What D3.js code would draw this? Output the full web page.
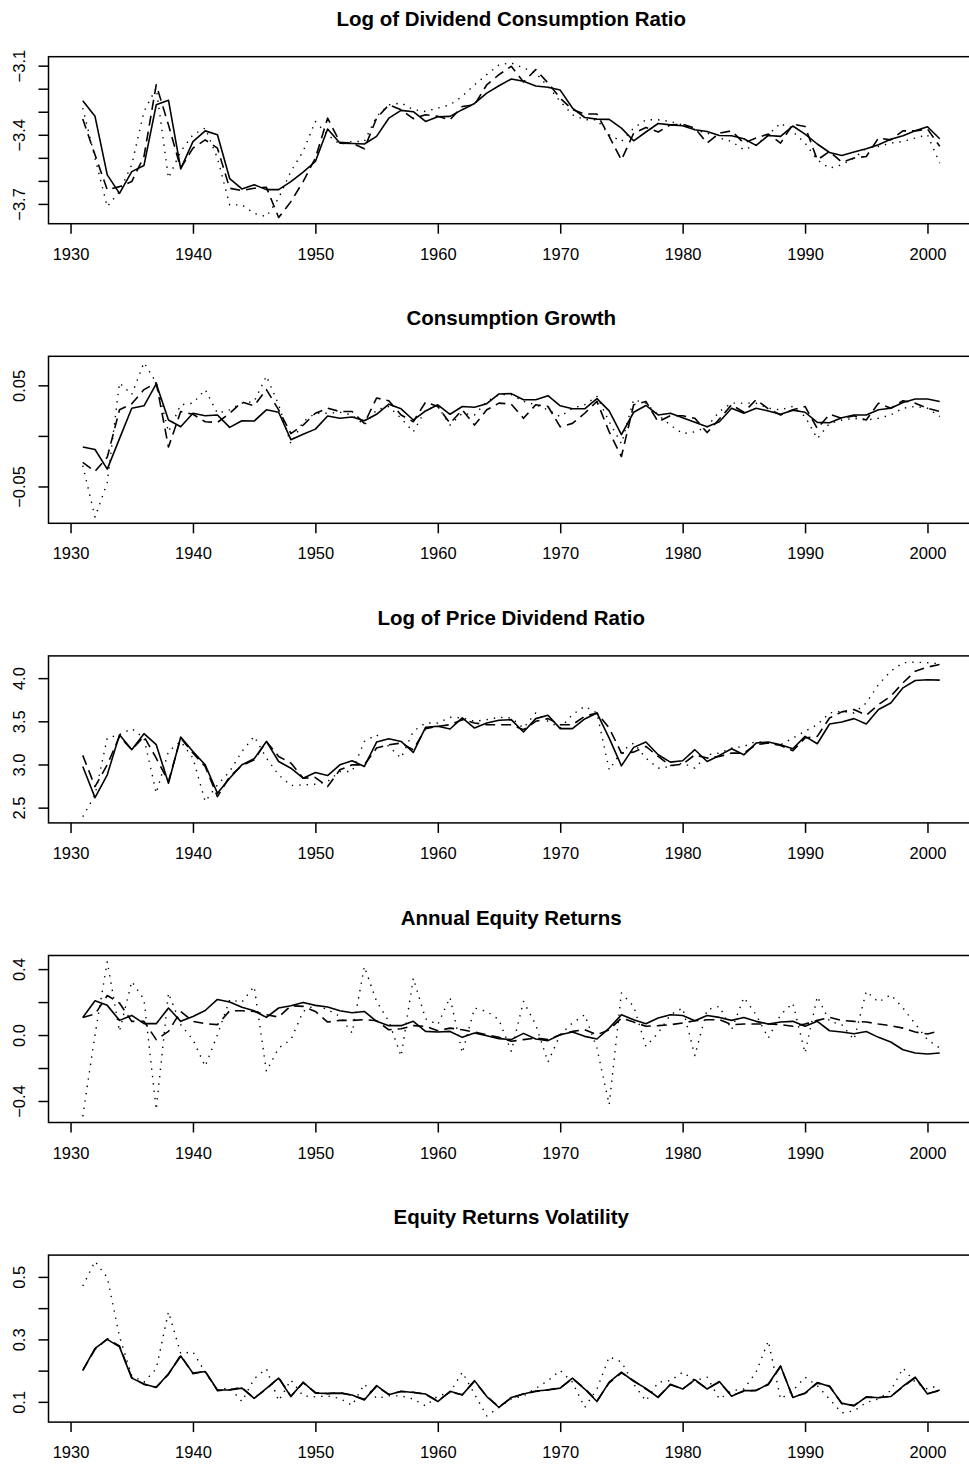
<!DOCTYPE html>
<html>
<head>
<meta charset="utf-8">
<script src="https://cdn.jsdelivr.net/npm/d3@7"></script>
<style>
  body { margin: 0; background: #fff; }
  svg { display: block; font-family: "Liberation Sans", Arial, Helvetica, sans-serif; }
</style>
</head>
<body>
<div id="chart"></div>
<script>
const years = d3.range(1931, 2002);
const xTicks = [1930, 1940, 1950, 1960, 1970, 1980, 1990, 2000];

// Log of dividend consumption ratio
const dcSolid = [
  -3.252,-3.32,-3.574,-3.654,-3.56,-3.533,-3.27,-3.25,-3.548,-3.43,
  -3.383,-3.40,-3.59,-3.635,-3.617,-3.638,-3.638,-3.603,-3.562,-3.516,
  -3.375,-3.436,-3.438,-3.44,-3.407,-3.328,-3.294,-3.30,-3.342,-3.322,
  -3.32,-3.291,-3.264,-3.219,-3.187,-3.158,-3.168,-3.188,-3.194,-3.206,
  -3.284,-3.325,-3.332,-3.333,-3.371,-3.426,-3.388,-3.351,-3.357,-3.361,
  -3.378,-3.386,-3.403,-3.404,-3.417,-3.446,-3.403,-3.407,-3.362,-3.397,
  -3.44,-3.477,-3.49,-3.475,-3.461,-3.443,-3.419,-3.404,-3.383,-3.365,
  -3.417];
const dcDashed = [
  -3.332,-3.487,-3.639,-3.625,-3.603,-3.494,-3.183,-3.357,-3.545,-3.458,
  -3.422,-3.458,-3.632,-3.642,-3.632,-3.628,-3.759,-3.69,-3.603,-3.501,
  -3.328,-3.432,-3.436,-3.461,-3.328,-3.27,-3.291,-3.33,-3.313,-3.32,
  -3.335,-3.277,-3.27,-3.183,-3.139,-3.103,-3.171,-3.117,-3.175,-3.241,
  -3.291,-3.31,-3.31,-3.407,-3.509,-3.393,-3.368,-3.388,-3.357,-3.354,
  -3.371,-3.436,-3.393,-3.383,-3.436,-3.414,-3.397,-3.436,-3.354,-3.364,
  -3.509,-3.472,-3.519,-3.501,-3.494,-3.414,-3.422,-3.383,-3.383,-3.375,
  -3.45];
const dcDotted = [
  -3.284,-3.501,-3.712,-3.646,-3.53,-3.299,-3.197,-3.588,-3.472,-3.40,
  -3.371,-3.501,-3.704,-3.704,-3.741,-3.755,-3.675,-3.559,-3.472,-3.342,
  -3.40,-3.441,-3.429,-3.429,-3.32,-3.27,-3.262,-3.291,-3.299,-3.284,
  -3.27,-3.233,-3.183,-3.139,-3.096,-3.088,-3.11,-3.132,-3.19,-3.255,
  -3.313,-3.335,-3.335,-3.40,-3.429,-3.371,-3.335,-3.335,-3.342,-3.357,
  -3.378,-3.393,-3.414,-3.429,-3.465,-3.443,-3.40,-3.349,-3.386,-3.436,
  -3.509,-3.545,-3.53,-3.501,-3.458,-3.451,-3.436,-3.429,-3.414,-3.40,
  -3.523];
const dcTicks = [-3.7, -3.6, -3.5, -3.4, -3.3, -3.2, -3.1];
const dcTickLabels = ["\u22123.7", "", "", "\u22123.4", "", "", "\u22123.1"];

// Consumption growth
const cgSolid = [
  -0.011,-0.0134,-0.0328,-0.0027,0.0274,0.0298,0.0515,0.0157,0.009,0.0224,
  0.020,0.0207,0.0084,0.015,0.0147,0.0258,0.0234,-0.0037,0.0017,0.0067,
  0.0197,0.0174,0.0187,0.015,0.0214,0.0314,0.0268,0.0157,0.0247,0.0308,
  0.0214,0.0291,0.0284,0.0318,0.0415,0.0418,0.0358,0.0358,0.0398,0.0298,
  0.0268,0.0268,0.0368,0.0247,0.0013,0.0234,0.0301,0.0207,0.0224,0.018,
  0.0134,0.009,0.014,0.0274,0.0224,0.0274,0.0247,0.0214,0.0254,0.0234,
  0.0134,0.013,0.018,0.0207,0.0207,0.0258,0.0274,0.0331,0.0365,0.0365,
  0.0341];
const cgDashed = [
  -0.0261,-0.0351,-0.0211,0.0258,0.0318,0.0458,0.0525,-0.011,0.0241,0.0214,
  0.014,0.0134,0.0224,0.0334,0.0298,0.0458,0.0258,0.0023,0.0107,0.0224,
  0.0274,0.0241,0.0241,0.0124,0.0375,0.0348,0.0207,0.014,0.0334,0.0291,
  0.0124,0.0258,0.0107,0.0258,0.0324,0.0314,0.0174,0.0308,0.0291,0.009,
  0.0124,0.0224,0.0341,0.004,-0.0204,0.0308,0.0341,0.014,0.020,0.020,
  0.0174,0.0033,0.0167,0.0308,0.0234,0.0358,0.0268,0.0207,0.0258,0.0291,
  0.0074,0.0214,0.0174,0.020,0.0157,0.0324,0.0274,0.0348,0.0324,0.0274,
  0.0241];
const cgDotted = [
  -0.0294,-0.0803,-0.0462,0.0525,0.0408,0.0726,0.0525,0.004,0.0308,0.0324,
  0.0458,0.0224,0.0258,0.0324,0.0341,0.0592,0.0308,-0.0077,0.014,0.0224,
  0.0224,0.0234,0.0207,0.0107,0.0258,0.0291,0.0174,0.004,0.0258,0.0291,
  0.0107,0.0224,0.0207,0.0341,0.0408,0.0408,0.0341,0.0308,0.0258,0.0191,
  0.0274,0.0308,0.0391,0.014,-0.0077,0.0358,0.0324,0.0207,0.0107,0.0023,
  0.004,0.009,0.0241,0.0324,0.0324,0.0324,0.0274,0.0258,0.0291,0.0191,
  -0.0027,0.0124,0.0157,0.0174,0.0157,0.0174,0.0207,0.0274,0.0291,0.0274,
  0.0191];
const cgTicks = [-0.05, 0, 0.05];
const cgTickLabels = ["\u22120.05", "", "0.05"];

// Log of price dividend ratio
const pdSolid = [
  2.977,2.616,2.88,3.345,3.171,3.357,3.229,2.783,3.318,3.151,
  2.996,2.667,2.841,2.996,3.066,3.267,3.035,2.957,2.841,2.907,
  2.872,2.996,3.043,2.977,3.26,3.298,3.267,3.14,3.43,3.442,
  3.411,3.539,3.422,3.481,3.512,3.519,3.376,3.531,3.57,3.415,
  3.415,3.527,3.597,3.306,2.984,3.198,3.26,3.112,3.027,3.043,
  3.171,3.035,3.105,3.182,3.112,3.248,3.26,3.229,3.182,3.326,
  3.24,3.469,3.492,3.531,3.469,3.636,3.713,3.888,3.973,3.981,
  3.977];
const pdDashed = [
  3.105,2.744,2.996,3.326,3.171,3.326,3.074,2.802,3.306,3.132,
  2.977,2.628,2.86,2.988,3.054,3.267,3.093,3.016,2.841,2.849,
  2.744,2.938,2.996,2.996,3.19,3.229,3.248,3.171,3.415,3.442,
  3.461,3.519,3.481,3.461,3.461,3.461,3.403,3.50,3.531,3.461,
  3.461,3.558,3.597,3.422,3.132,3.143,3.209,3.093,2.988,3.004,
  3.112,3.074,3.093,3.132,3.132,3.229,3.248,3.221,3.159,3.306,
  3.326,3.539,3.609,3.636,3.57,3.694,3.791,3.946,4.081,4.128,
  4.159];
const pdDotted = [
  2.395,2.647,3.306,3.345,3.415,3.306,2.667,3.151,3.267,3.074,
  2.57,2.764,2.919,3.151,3.326,3.074,2.88,2.756,2.764,2.771,
  2.802,2.919,2.919,3.267,3.345,3.209,3.074,3.384,3.481,3.481,
  3.547,3.539,3.50,3.519,3.547,3.539,3.422,3.597,3.50,3.422,
  3.578,3.674,3.597,2.938,3.151,3.248,3.074,2.957,2.977,3.016,
  2.957,3.112,3.132,3.19,3.209,3.267,3.248,3.229,3.306,3.384,
  3.461,3.597,3.616,3.597,3.713,3.926,4.081,4.178,4.186,4.178,
  4.167];
const pdTicks = [2.5, 3.0, 3.5, 4.0];
const pdTickLabels = ["2.5", "3.0", "3.5", "4.0"];

// Annual equity returns
const erSolid = [
  0.107,0.208,0.18,0.089,0.119,0.069,0.069,0.164,0.083,0.113,
  0.149,0.216,0.20,0.168,0.147,0.107,0.164,0.178,0.198,0.18,
  0.17,0.147,0.135,0.143,0.083,0.057,0.057,0.083,0.022,0.018,
  0.022,-0.014,0.012,-0.004,-0.022,-0.028,0.01,-0.024,-0.034,0.002,
  0.018,-0.008,-0.024,0.042,0.123,0.093,0.069,0.103,0.123,0.119,
  0.087,0.119,0.107,0.089,0.107,0.083,0.067,0.079,0.083,0.053,
  0.083,0.026,0.018,0.008,0.022,-0.014,-0.042,-0.089,-0.109,-0.115,
  -0.109];
const erDashed = [
  0.107,0.127,0.24,0.194,0.083,0.083,-0.028,0.022,0.143,0.083,
  0.069,0.063,0.147,0.147,0.143,0.123,0.109,0.178,0.174,0.143,
  0.079,0.089,0.089,0.093,0.087,0.032,0.038,0.057,0.053,0.026,
  0.042,0.032,0.018,0.002,-0.014,-0.038,-0.028,-0.018,-0.028,0.002,
  0.022,0.032,0.002,0.032,0.103,0.079,0.053,0.057,0.063,0.073,
  0.087,0.093,0.093,0.063,0.067,0.067,0.067,0.063,0.053,0.067,
  0.089,0.107,0.089,0.083,0.079,0.067,0.057,0.042,0.018,0.006,
  0.026];
const erDotted = [
  -0.493,0.002,0.445,0.022,0.325,0.216,-0.453,0.255,0.063,-0.028,
  -0.19,0.002,0.214,0.20,0.295,-0.22,-0.079,-0.028,0.143,0.184,
  0.154,0.113,0.012,0.416,0.204,0.083,-0.129,0.345,0.099,0.063,
  0.228,-0.109,0.164,0.143,0.093,-0.099,0.204,0.063,-0.164,0.002,
  0.073,0.123,-0.079,-0.422,0.255,0.174,-0.069,0.012,0.123,0.164,
  -0.125,0.154,0.174,0.032,0.228,0.123,-0.018,0.123,0.194,-0.109,
  0.234,0.083,0.063,-0.028,0.265,0.20,0.244,0.164,0.067,-0.028,
  -0.079];
const erTicks = [-0.4, -0.2, 0, 0.2, 0.4];
const erTickLabels = ["\u22120.4", "", "0.0", "", "0.4"];

// Equity returns volatility
const volSolid = [
  0.2005,0.271,0.30,0.276,0.176,0.157,0.146,0.19,0.247,0.192,
  0.197,0.138,0.138,0.144,0.111,0.143,0.176,0.117,0.163,0.128,
  0.127,0.128,0.122,0.106,0.152,0.123,0.134,0.13,0.125,0.101,
  0.134,0.122,0.168,0.117,0.082,0.114,0.125,0.135,0.138,0.144,
  0.176,0.141,0.101,0.163,0.195,0.166,0.143,0.114,0.156,0.141,
  0.171,0.141,0.165,0.118,0.136,0.136,0.157,0.215,0.114,0.128,
  0.162,0.149,0.096,0.087,0.116,0.113,0.117,0.15,0.179,0.125,
  0.138];
const volDashed = [
  0.201,0.268,0.302,0.279,0.178,0.156,0.147,0.188,0.249,0.19,
  0.198,0.136,0.139,0.146,0.112,0.141,0.178,0.118,0.161,0.13,
  0.126,0.13,0.121,0.108,0.15,0.124,0.133,0.131,0.124,0.103,
  0.132,0.123,0.166,0.118,0.084,0.112,0.126,0.133,0.139,0.145,
  0.174,0.143,0.103,0.161,0.193,0.168,0.141,0.116,0.155,0.142,
  0.169,0.142,0.163,0.12,0.134,0.137,0.155,0.213,0.116,0.127,
  0.16,0.151,0.094,0.089,0.115,0.114,0.118,0.148,0.177,0.127,
  0.136];
const volDotted = [
  0.471,0.55,0.498,0.309,0.184,0.163,0.206,0.388,0.255,0.26,
  0.195,0.136,0.146,0.101,0.174,0.206,0.103,0.17,0.119,0.116,
  0.119,0.111,0.089,0.157,0.111,0.119,0.119,0.109,0.087,0.119,
  0.13,0.195,0.125,0.055,0.082,0.109,0.119,0.143,0.168,0.2005,
  0.163,0.082,0.141,0.244,0.228,0.157,0.103,0.163,0.168,0.195,
  0.168,0.179,0.109,0.136,0.141,0.195,0.295,0.109,0.136,0.179,
  0.152,0.109,0.065,0.071,0.098,0.109,0.136,0.208,0.163,0.141,
  0.154];
const volTicks = [0.1, 0.2, 0.3, 0.4, 0.5];
const volTickLabels = ["0.1", "", "0.3", "", "0.5"];

const panels = [
  { title: "Log of Dividend Consumption Ratio", series: [dcSolid, dcDashed, dcDotted], ticks: dcTicks, labels: dcTickLabels },
  { title: "Consumption Growth", series: [cgSolid, cgDashed, cgDotted], ticks: cgTicks, labels: cgTickLabels },
  { title: "Log of Price Dividend Ratio", series: [pdSolid, pdDashed, pdDotted], ticks: pdTicks, labels: pdTickLabels },
  { title: "Annual Equity Returns", series: [erSolid, erDashed, erDotted], ticks: erTicks, labels: erTickLabels },
  { title: "Equity Returns Volatility", series: [volSolid, volDashed, volDotted], ticks: volTicks, labels: volTickLabels }
];

// line styles: solid, dashed, dotted (R lty 1, 2, 3)
const dashes = [null, "10,6", "1.4,6"];

render(document.querySelector("#chart"));

// R style axis range: data extent stretched by 4% on each side
function padded(ext) {
  let d = (ext[1] - ext[0]) * 0.04;
  return [ext[0] - d, ext[1] + d];
}

function render(element) {
  const width = 969, height = 1464;
  const left = 48.5, right = 974;
  const firstTop = 56.7, rowStep = 299.6, boxH = 167;

  let svg = d3.select(element)
    .append("svg")
    .attr("width", width)
    .attr("height", height);

  svg.append("rect").attr("width", width).attr("height", height).attr("fill", "#fff");

  let x = d3.scaleLinear()
    .domain(padded(d3.extent(years)))
    .range([left, right]);

  panels.forEach((p, i) => {
    let top = firstTop + rowStep * i;
    let bottom = top + boxH;

    let y = d3.scaleLinear()
      .domain(padded(d3.extent(p.series.flat())))
      .range([bottom, top]);

    let g = svg.append("g");

    // title
    g.append("text")
      .attr("x", (left + right) / 2)
      .attr("y", top - 31)
      .attr("text-anchor", "middle")
      .style("font-size", "20.5px")
      .style("font-weight", "bold")
      .text(p.title);

    // series
    let line = d3.line()
      .x((d, j) => x(years[j]))
      .y(d => y(d));

    p.series.forEach((s, k) => {
      g.append("path")
        .datum(s)
        .attr("fill", "none")
        .attr("stroke", "#000")
        .attr("stroke-width", k == 2 ? 1.4 : 1.6)
        .attr("stroke-linejoin", "round")
        .attr("stroke-dasharray", dashes[k])
        .attr("d", line);
    });

    // box
    g.append("rect")
      .attr("x", left)
      .attr("y", top)
      .attr("width", right - left)
      .attr("height", boxH)
      .attr("fill", "none")
      .attr("stroke", "#000")
      .attr("stroke-width", 1.5);

    // x axis
    let xAxis = g.append("g")
      .attr("transform", "translate(0," + bottom + ")")
      .call(d3.axisBottom(x).tickValues(xTicks).tickSize(10).tickFormat(d3.format("d")));
    xAxis.select(".domain").remove();
    xAxis.selectAll(".tick line").attr("stroke-width", 1.5);
    xAxis.selectAll(".tick text")
      .attr("y", 36)
      .attr("dy", 0)
      .attr("fill", "#000")
      .style("font-size", "16.5px")
      .style("font-family", "'Liberation Sans', Arial, sans-serif");

    // y axis, labels rotated like R's default
    let yAxis = g.append("g")
      .attr("transform", "translate(" + left + ",0)")
      .call(d3.axisLeft(y).tickValues(p.ticks).tickSize(10).tickFormat((d, j) => p.labels[j]));
    yAxis.select(".domain").remove();
    yAxis.selectAll(".tick line").attr("stroke-width", 1.5);
    yAxis.selectAll(".tick text")
      .attr("x", 0)
      .attr("y", 0)
      .attr("dy", 0)
      .attr("text-anchor", "middle")
      .attr("transform", "translate(-23.5,0) rotate(-90)")
      .attr("fill", "#000")
      .style("font-size", "16.5px")
      .style("font-family", "'Liberation Sans', Arial, sans-serif");
  });
}
</script>
</body>
</html>
